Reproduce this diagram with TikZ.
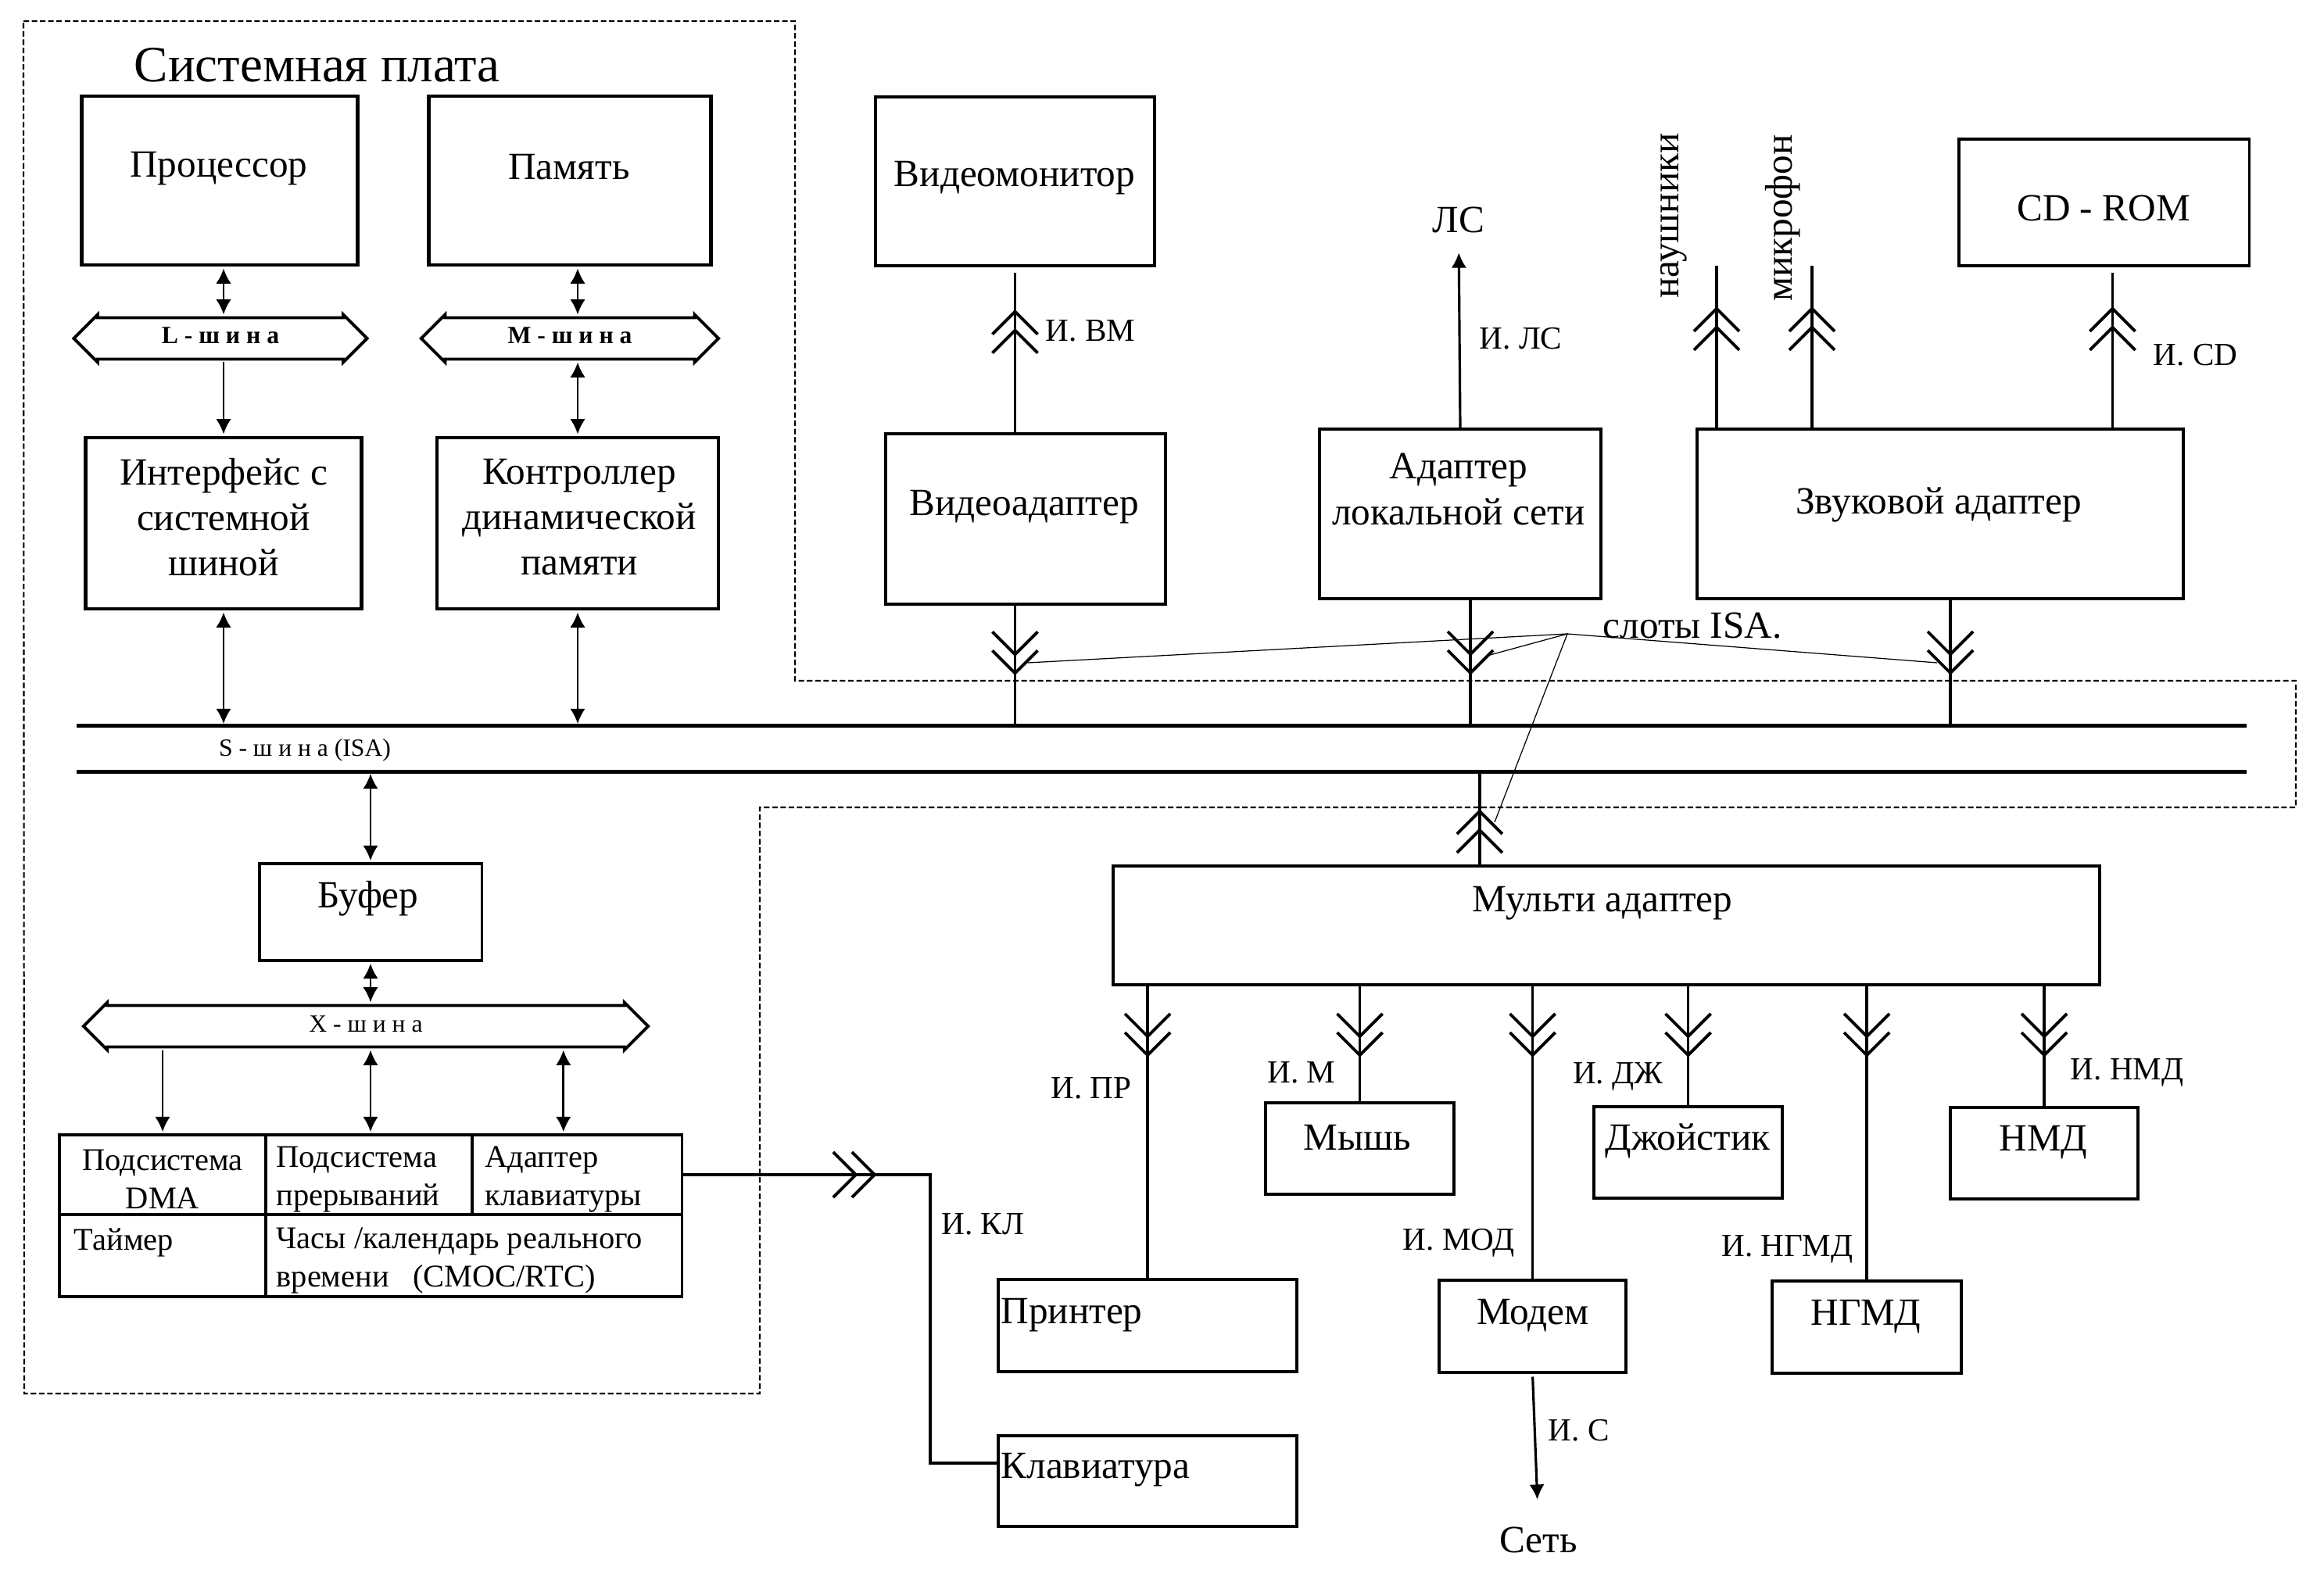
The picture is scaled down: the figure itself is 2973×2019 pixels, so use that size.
\documentclass[tikz,border=0pt]{standalone}
\usepackage{fontspec}
\setmainfont{Liberation Serif}
\usepackage{tikz}
\usetikzlibrary{arrows.meta}
\usetikzlibrary{decorations.markings}
\usetikzlibrary{shapes.arrows}

\tikzset{
  box/.style={draw, line width=1.3pt, inner sep=0pt},
  lbox/.style={draw, line width=1.1pt, inner sep=0pt},
  tbox/.style={draw, line width=0.9pt, inner sep=0pt},
  ttl/.style={inner sep=0pt, font=\fontsize{18.5}{22}\selectfont},
  txt/.style={inner sep=0pt, align=center, font=\fontsize{14}{16.5}\selectfont},
  lbl/.style={inner sep=0pt, font=\fontsize{11.7}{14}\selectfont},
  celltxt/.style={inner sep=0pt, align=left, font=\fontsize{11.5}{14}\selectfont},
  bus/.style={double arrow, draw, line width=1.1pt, double arrow tip angle=90,
    double arrow head extend=0.04cm, inner xsep=0pt, inner ysep=0.115cm,
    text height=0.2cm, text depth=0.06cm, font=\fontsize{9}{10}\selectfont},
  sbusline/.style={line width=1.3pt},
  chv/.style={postaction={decorate, decoration={markings, mark=at position #1 with {
    \draw[-, line width=1.1pt, shorten <=0pt, shorten >=0pt]
      (-0.29cm,0.29cm) -- (0,0) -- (-0.29cm,-0.29cm)
      (-0.53cm,0.29cm) -- (-0.24cm,0) -- (-0.53cm,-0.29cm);}}}},
  arr/.style={line width=0.75pt, shorten <=0.6pt, shorten >=0.6pt},
  lnk/.style={line width=1.1pt},
  lnkb/.style={line width=0.9pt},
  slotln/.style={line width=0.35pt},
  brd/.style={line width=0.6pt, dash pattern=on 2pt off 1pt},
}

\begin{document}
\begin{tikzpicture}[x=0.01cm, y=-0.01cm, >={Latex[length=5.5pt,width=5.5pt]}]
  \useasboundingbox (0,0) rectangle (2973,2019);

  \draw[brd] (30,27) -- (1017,27) -- (1017,871) -- (2937,871) -- (2937,1033) -- (972,1033) -- (972,1783) -- (31,1783) -- cycle;
  \node[ttl, anchor=west] (title) at (171,83) {Системная плата};

  \node[box, minimum width=3.53cm, minimum height=2.16cm] (proc) at (281,231) {};
  \node[txt] (procT) at (280,216) {Процессор};
  \node[box, minimum width=3.61cm, minimum height=2.16cm] (mem) at (729,231) {};
  \node[txt] (memT) at (728,214) {Память};
  \node[bus, font=\fontsize{9}{10}\bfseries, minimum height=3.75cm] (lbus) at (282,433) {L - ш и н а};
  \node[bus, font=\fontsize{9}{10}\bfseries, minimum height=3.80cm] (mbus) at (729,433) {M - ш и н а};
  \node[box, minimum width=3.53cm, minimum height=2.19cm] (ifc) at (286,669.5) {};
  \node[txt] (ifcT) at (286,662) {Интерфейс с\\системной\\шиной};
  \node[box, minimum width=3.60cm, minimum height=2.19cm] (ctl) at (739,669.5) {};
  \node[txt] (ctlT) at (741,662) {Контроллер\\динамической\\памяти};

  \node[minimum width=27.72cm, minimum height=0.58cm, inner sep=0pt] (sbus) at (1486,958) {};
  \draw[sbusline] (sbus.north west) -- (sbus.north east) (sbus.south west) -- (sbus.south east);
  \node[inner sep=0pt, font=\fontsize{9}{10}\selectfont] (sbusT) at (390,960) {S - ш и н а (ISA)};

  \node[tbox, minimum width=2.84cm, minimum height=1.24cm] (buf) at (474,1167) {};
  \node[txt] (bufT) at (471,1150) {Буфер};
  \node[bus, minimum height=7.22cm] (xbus) at (468,1313) {X - ш и н а};

  \node[tbox, minimum width=2.64cm, minimum height=1.02cm] (dma) at (208,1503) {};
  \node[tbox, minimum width=2.64cm, minimum height=1.02cm] (irq) at (472,1503) {};
  \node[tbox, minimum width=2.68cm, minimum height=1.02cm] (kbc) at (738,1503) {};
  \node[tbox, minimum width=2.64cm, minimum height=1.05cm] (tmr) at (208,1606.5) {};
  \node[tbox, minimum width=5.32cm, minimum height=1.05cm] (rtc) at (606,1606.5) {};
  \node[celltxt, align=center] (dmaT) at (208,1509) {Подсистема\\DMA};
  \node[celltxt, anchor=west] (irqT) at (353,1509) {Подсистема\\прерываний};
  \node[celltxt, anchor=west] (kbcT) at (620,1509) {Адаптер\\клавиатуры};
  \node[celltxt, anchor=west] (tmrT) at (94,1590) {Таймер};
  \node[celltxt, anchor=west] (rtcT) at (353,1613) {Часы /календарь реального\\времени\ \ \ (CMOC/RTC)};

  \draw[arr, <->] (proc.south -| ifc) -- (lbus.north -| ifc);
  \draw[arr, ->] (lbus.south -| ifc) -- (ifc.north);
  \draw[arr, <->] (ifc.south) -- (sbus.north -| ifc);
  \draw[arr, <->] (mem.south -| ctl) -- (mbus.north -| ctl);
  \draw[arr, <->] (mbus.south -| ctl) -- (ctl.north);
  \draw[arr, <->] (ctl.south) -- (sbus.north -| ctl);
  \draw[arr, <->] (sbus.south -| buf) -- (buf.north);
  \draw[arr, <->] (buf.south) -- (xbus.north -| buf);
  \draw[arr, ->] (xbus.south -| dma) -- (dma.north);
  \draw[arr, <->] (xbus.south -| buf) -- (irq.north -| buf);
  \draw[arr, <->] (xbus.south -| kbcT) -- (kbc.north -| kbcT);

  \node[box, minimum width=3.57cm, minimum height=2.16cm] (vmon) at (1298.5,232) {};
  \node[txt] (vmonT) at (1298,228) {Видеомонитор};
  \node[box, minimum width=3.58cm, minimum height=2.18cm] (vadp) at (1312,664) {};
  \node[txt] (vadpT) at (1310,649) {Видеоадаптер};
  \draw[lnk, chv=1.54cm, shorten >=2pt] (vadp.north -| vmon) -- (vmon.south);
  \draw[lnk, chv=0.86cm] (vadp.south -| vmon) -- (sbus.north -| vmon);
  \node[lbl, anchor=west] (ivm) at (1337,423) {И. ВМ};

  \node[lbox, minimum width=3.59cm, minimum height=2.17cm] (ladp) at (1868,657.5) {};
  \node[txt] (ladpT) at (1866,626) {Адаптер\\локальной сети};
  \node[txt] (ls) at (1866,281) {ЛС};
  \draw[lnkb, ->, shorten >=0.25cm] (ladp.north) -- (ls.south);
  \node[lbl, anchor=west] (ils) at (1892,433) {И. ЛС};
  \coordinate (ladpb) at ([xshift=0.13cm]ladp.south);
  \draw[lnk, chv=0.93cm] (ladpb) -- (ladpb |- sbus.north);

  \node[tbox, minimum width=3.71cm, minimum height=1.62cm] (cd) at (2691.5,259) {};
  \node[txt] (cdT) at (2691,266) {CD - ROM};
  \node[lbox, minimum width=6.22cm, minimum height=2.17cm] (snd) at (2482,657.5) {};
  \node[txt] (sndT) at (2480,646) {Звуковой адаптер};
  \coordinate (hph) at (2196,340);
  \coordinate (mic) at (2318,340);
  \coordinate (cdl) at ([xshift=0.11cm, yshift=-0.07cm]cd.south);
  \draw[lnk, chv=1.52cm] (snd.north -| hph) -- (hph);
  \draw[lnk, chv=1.52cm] (snd.north -| mic) -- (mic);
  \draw[lnk, chv=1.52cm] (snd.north -| cdl) -- (cdl);
  \node[txt, rotate=90] (hphT) at (2141,276) {наушники};
  \node[txt, rotate=90] (micT) at (2281,279) {микрофон};
  \node[lbl, anchor=west] (icd) at (2754,454) {И. CD};
  \coordinate (sndb) at ([xshift=0.13cm]snd.south);
  \draw[lnk, chv=0.93cm] (sndb) -- (sndb |- sbus.north);

  \node[txt, anchor=west] (slt) at (2050,801) {слоты ISA.};
  \coordinate (slp) at (2005,811);
  \coordinate (sv) at (1315,848);
  \coordinate (sl) at (1906,838);
  \coordinate (ss) at (2478,848);
  \coordinate (sm) at (1912,1052);
  \draw[slotln] (sv) -- (slp) -- (ss);
  \draw[slotln] (sl) -- (slp) -- (sm);

  \node[lbox, minimum width=12.62cm, minimum height=1.52cm] (madp) at (2055,1184) {};
  \node[txt] (madpT) at (2050,1156) {Мульти адаптер};
  \coordinate (madpt) at ([xshift=-1.62cm]madp.north);
  \draw[lnk, chv=0.68cm] (madpt) -- (madpt |- sbus.south);

  \node[lbox, minimum width=3.82cm, minimum height=1.18cm] (prn) at (1468,1696) {};
  \node[txt, anchor=west] (prnT) at (1280,1683) {Принтер};
  \node[lbox, minimum width=2.41cm, minimum height=1.17cm] (mse) at (1739.5,1469.5) {};
  \node[txt] (mseT) at (1736,1455) {Мышь};
  \node[lbox, minimum width=2.39cm, minimum height=1.18cm] (mdm) at (1960.5,1697) {};
  \node[txt] (mdmT) at (1961,1683) {Модем};
  \node[lbox, minimum width=2.41cm, minimum height=1.17cm] (joy) at (2159.5,1474.5) {};
  \node[txt] (joyT) at (2159,1460) {Джойстик};
  \node[lbox, minimum width=2.42cm, minimum height=1.18cm] (fdd) at (2388,1698) {};
  \node[txt] (fddT) at (2387,1685) {НГМД};
  \node[lbox, minimum width=2.40cm, minimum height=1.17cm] (hdd) at (2615,1475.5) {};
  \node[txt] (hddT) at (2614,1462) {НМД};
  \node[lbox, minimum width=3.82cm, minimum height=1.16cm] (kbd) at (1468,1895) {};
  \node[txt, anchor=west] (kbdT) at (1280,1881) {Клавиатура};

  \foreach \dev in {prn,mse,mdm,joy,fdd,hdd}
    \draw[lnkb, chv=0.88cm] (madp.south -| \dev) -- (\dev.north);

  \node[lbl, anchor=east] (ipr) at (1448,1392) {И. ПР};
  \node[lbl, anchor=east] (im) at (1709,1372) {И. М};
  \node[lbl, anchor=east] (imod) at (1938,1590) {И. МОД};
  \node[lbl, anchor=east] (idj) at (2128,1377) {И. ДЖ};
  \node[lbl, anchor=east] (ingmd) at (2371,1598) {И. НГМД};
  \node[lbl, anchor=west] (inmd) at (2648,1372) {И. НМД};

  \node[txt] (net) at (1968,1970) {Сеть};
  \draw[lnkb, ->, shorten <=1pt, shorten >=0.34cm] (mdm.south) -- (net.north);
  \node[lbl, anchor=west] (is) at (1980,1830) {И. С};

  \draw[lnk, chv=2.45cm] (kbc.east) -- ++(316,0) |- ([yshift=0.23cm]kbd.west);
  \node[lbl, anchor=west] (ikl) at (1204,1566) {И. КЛ};
\end{tikzpicture}
\end{document}
